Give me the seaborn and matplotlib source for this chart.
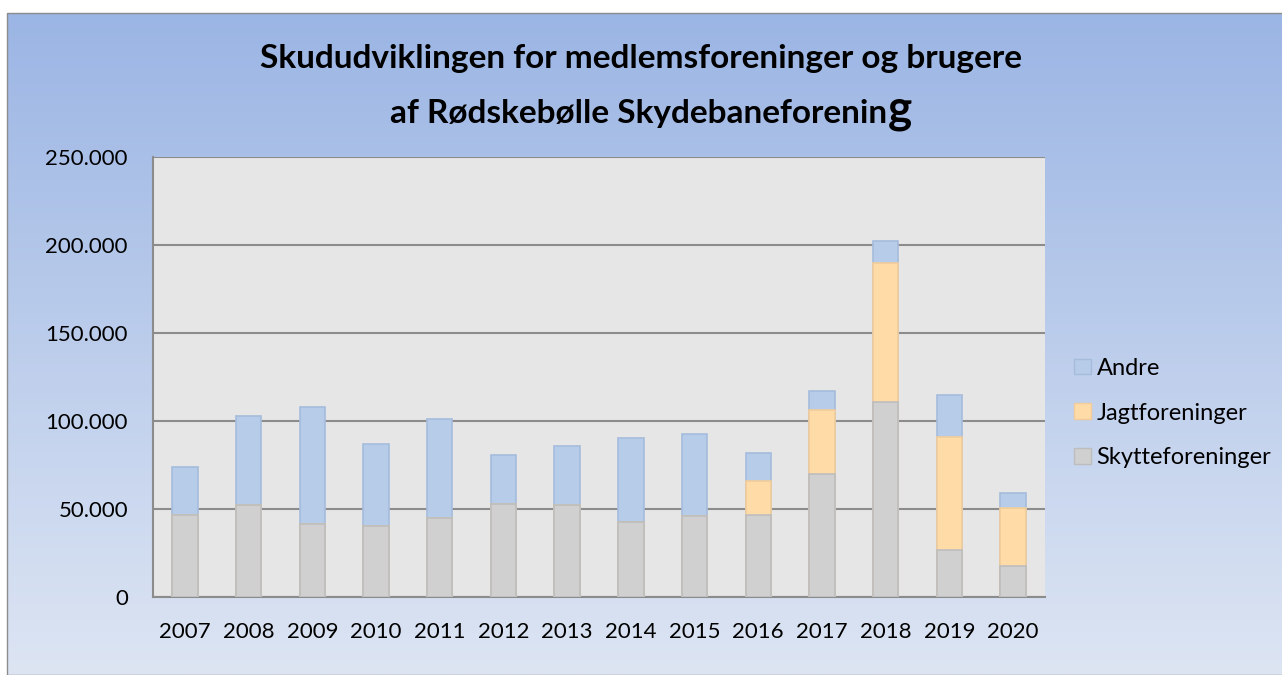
import numpy as np
import pandas as pd
import seaborn as sns
import matplotlib.pyplot as plt
from matplotlib.patches import Patch, Rectangle

# values (shots per year)
years = ['2007', '2008', '2009', '2010', '2011', '2012', '2013',
         '2014', '2015', '2016', '2017', '2018', '2019', '2020']
skytte = [46700, 52300, 41400, 40300, 44900, 53000, 52300,
          42800, 45800, 46400, 70100, 110800, 26600, 17700]
jagt = [0, 0, 0, 0, 0, 0, 0,
        0, 0, 19700, 36300, 79100, 64300, 33000]
andre = [27100, 50600, 66600, 46800, 56200, 27400, 33400,
         47500, 47000, 15900, 10700, 12500, 23900, 8300]

df = pd.DataFrame({'year': years, 'Skytteforeninger': skytte,
                   'Jagtforeninger': jagt, 'Andre': andre})
df['lvl1'] = df['Skytteforeninger']
df['lvl2'] = df['lvl1'] + df['Jagtforeninger']
df['lvl3'] = df['lvl2'] + df['Andre']

c_sky, e_sky = '#d0d0d0', '#bdbdbd'
c_jagt, e_jagt = '#ffdba8', '#f0cc9a'
c_andre, e_andre = '#b7cce8', '#a6bcdc'

sns.set_theme(style='white')
plt.rcParams['font.family'] = ['Lato', 'DejaVu Sans']
plt.rcParams['text.color'] = 'black'

fig = plt.figure(figsize=(12.82, 6.75), dpi=100)

# gradient background of the chart area
bg = fig.add_axes([7 / 1282, 0, 1 - 7 / 1282, (675 - 13) / 675], zorder=-5)
grad = np.linspace(0, 1, 256)[:, None]
top = np.array([155, 181, 228]) / 255
bot = np.array([221, 229, 243]) / 255
img = top[None, None, :] * (1 - grad[:, :, None]) + bot[None, None, :] * grad[:, :, None]
bg.imshow(img, aspect='auto', extent=[0, 1, 0, 1])
bg.set_axis_off()
fig.patches.append(Rectangle((7 / 1282, 0), 1, (675 - 13) / 675, transform=fig.transFigure,
                             fill=False, edgecolor='#8c8c8c', linewidth=1, zorder=10))

ax = fig.add_axes([153 / 1282, (675 - 597) / 675, (1045 - 153) / 1282, (597 - 157) / 675])
ax.set_facecolor('#e6e6e6')

sns.barplot(data=df, x='year', y='lvl3', color=c_andre, edgecolor=e_andre,
            linewidth=1.2, width=0.4, saturation=1, ax=ax, zorder=3)
sns.barplot(data=df, x='year', y='lvl2', color=c_jagt, edgecolor=e_jagt,
            linewidth=1.2, width=0.4, saturation=1, ax=ax, zorder=3)
sns.barplot(data=df, x='year', y='lvl1', color=c_sky, edgecolor=e_sky,
            linewidth=1.2, width=0.4, saturation=1, ax=ax, zorder=3)

ax.set_xlim(-0.5, len(years) - 0.5)
ax.set_ylim(0, 250000)
ticks = np.arange(0, 250001, 50000)
ax.set_yticks(ticks)
ax.set_yticklabels([f'{t:,}'.replace(',', '.') for t in ticks])
ax.yaxis.grid(True, color='#8c8c8c', linewidth=1.5, zorder=0)
ax.set_axisbelow(True)
ax.set_xlabel('')
ax.set_ylabel('')
ax.tick_params(axis='both', length=0, labelsize=16, colors='black')
ax.tick_params(axis='y', pad=18)
ax.tick_params(axis='x', pad=18)
for s in ['top', 'right']:
    ax.spines[s].set_visible(False)
for s in ['left', 'bottom']:
    ax.spines[s].set_color('#8c8c8c')
    ax.spines[s].set_linewidth(1.5)

# title: two lines, the last "g" is drawn larger like in the original
fig.text(0.5, 0.899, 'Skududviklingen for medlemsforeninger og brugere',
         ha='center', va='baseline', fontsize=24, fontweight='bold')
line2 = fig.text(0.5, 0.818, 'af Rødskebølle Skydebaneforenin',
                 ha='center', va='baseline', fontsize=24, fontweight='bold')
gtxt = fig.text(0.5, 0.818, 'g', ha='left', va='baseline', fontsize=33, fontweight='bold')
r = fig.canvas.get_renderer()
w_main = line2.get_window_extent(r).width
w_g = gtxt.get_window_extent(r).width
x0 = (651 - (w_main + w_g) / 2) / 1282
line2.set_ha('left')
line2.set_x(x0)
gtxt.set_x(x0 + w_main / 1282)

handles = [Patch(facecolor=c_andre, edgecolor=e_andre, label='Andre'),
           Patch(facecolor=c_jagt, edgecolor=e_jagt, label='Jagtforeninger'),
           Patch(facecolor=c_sky, edgecolor=e_sky, label='Skytteforeninger')]
fig.legend(handles=handles, loc='center left', bbox_to_anchor=(1053 / 1282, (675 - 413) / 675),
           frameon=False, fontsize=17, handlelength=0.7, handleheight=0.65,
           handletextpad=0.25, labelspacing=1.0, borderpad=0.4)

fig.savefig('out.png', dpi=100)
